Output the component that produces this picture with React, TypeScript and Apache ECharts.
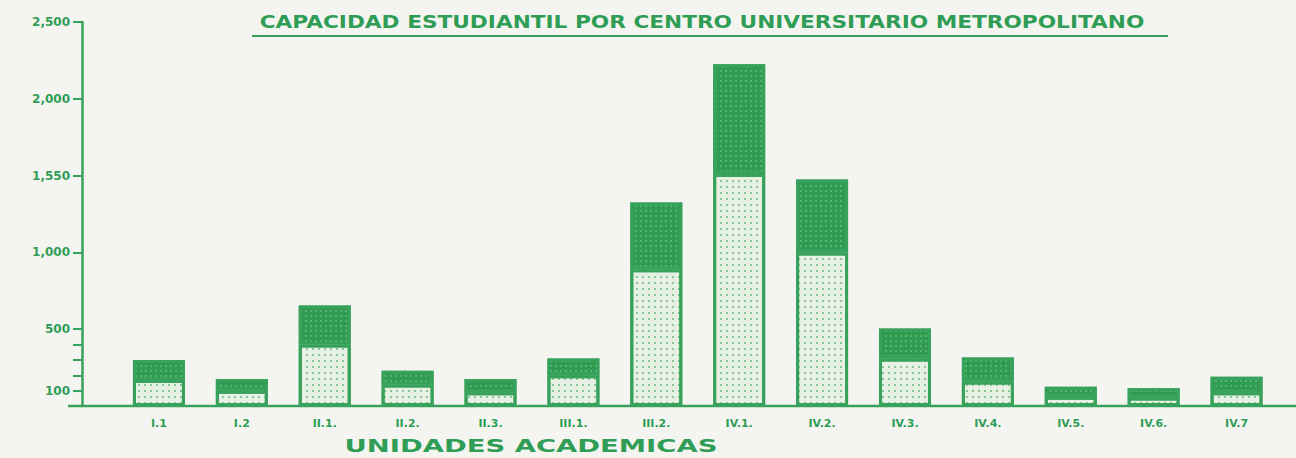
import React, { useEffect, useRef } from "react";
import * as echarts from "echarts";

const categories = ["I.1", "I.2", "II.1.", "II.2.", "II.3.", "III.1.", "III.2.", "IV.1.", "IV.2.", "IV.3.", "IV.4.", "IV.5.", "IV.6.", "IV.7"];
const baseValues = [170, 100, 400, 140, 90, 200, 890, 1510, 1000, 310, 160, 60, 55, 90];
const upperValues = [130, 75, 255, 90, 85, 110, 435, 715, 475, 195, 155, 65, 60, 100];
const yTickValues = [100, 200, 300, 400, 500, 1000, 1500, 2000, 2500];
const yLabelValues = [100, 500, 1000, 1500, 2000, 2500];
const yLabelTexts = ["100", "500", "1,000", "1,550", "2,000", "2,500"];
const titleText = "CAPACIDAD ESTUDIANTIL POR CENTRO UNIVERSITARIO METROPOLITANO";
const xNameText = "UNIDADES ACADEMICAS";

const GREEN = "#2f9d55";
const LINE = "#38a25c";
const BG = "#f4f5f1";

function measure(text: string, font: string): number {
  const c = document.createElement("canvas");
  const ctx = c.getContext("2d");
  if (!ctx) return text.length * 10;
  ctx.font = font;
  return ctx.measureText(text).width;
}

export default function App() {
  const ref = useRef<HTMLDivElement>(null);
  useEffect(() => {
    if (!ref.current) return;
    const chart = echarts.init(ref.current, undefined, { renderer: "svg" });
    const titleFont = 'bold 18px "DejaVu Sans"';
    const titleScale = 885 / measure(titleText, titleFont);
    const nameScale = 373 / measure(xNameText, titleFont);
    const labelMap: Record<number, string> = {};
    yLabelValues.forEach((v, i) => (labelMap[v] = yLabelTexts[i]));

    chart.setOption({
      animation: false,
      backgroundColor: BG,
      grid: { left: 117.5, right: 18, top: 22, bottom: 52 },
      xAxis: {
        type: "category",
        data: categories,
        axisLine: { show: false },
        axisTick: { show: false },
        axisLabel: {
          color: GREEN,
          fontFamily: "DejaVu Sans",
          fontWeight: "bold",
          fontSize: 11,
          margin: 12,
        },
      },
      yAxis: {
        type: "value",
        min: 0,
        max: 2500,
        interval: 500,
        offset: 35.5,
        splitLine: { show: false },
        axisLine: { show: true, lineStyle: { color: LINE, width: 2.5 } },
        axisTick: {
          show: true,
          customValues: yTickValues,
          length: 9,
          lineStyle: { color: LINE, width: 2 },
        },
        axisLabel: {
          customValues: yLabelValues,
          formatter: (v: number) => labelMap[v] ?? "",
          color: GREEN,
          fontFamily: "DejaVu Sans",
          fontWeight: "bold",
          fontSize: 12,
          margin: 12,
        },
      },
      series: [
        {
          type: "bar",
          name: "base",
          stack: "total",
          data: baseValues,
          barWidth: 52,
          itemStyle: {
            color: "#e6f0e3",
            borderColor: LINE,
            borderWidth: 3,
            decal: {
              symbol: "rect",
              symbolSize: 1,
              color: "rgba(60,165,95,0.55)",
              dashArrayX: [1.5, 4],
              dashArrayY: [1.5, 4],
            },
          },
        },
        {
          type: "bar",
          name: "upper",
          stack: "total",
          data: upperValues,
          barWidth: 52,
          itemStyle: {
            color: "#2f9b50",
            borderColor: LINE,
            borderWidth: 3,
            decal: {
              symbol: "circle",
              symbolSize: 1,
              color: "rgba(150,215,165,0.45)",
              dashArrayX: [1.5, 3],
              dashArrayY: [1.5, 3],
            },
          },
        },
      ],
      graphic: [
        {
          type: "text",
          x: 702,
          y: 22,
          scaleX: titleScale,
          style: {
            text: titleText,
            font: titleFont,
            fill: GREEN,
            textAlign: "center",
            textVerticalAlign: "middle",
          },
        },
        {
          type: "line",
          shape: { x1: 252, y1: 36, x2: 1168, y2: 36 },
          style: { stroke: LINE, lineWidth: 2 },
        },
        {
          type: "line",
          shape: { x1: 68, y1: 406, x2: 1296, y2: 406 },
          style: { stroke: LINE, lineWidth: 2.5 },
        },
        {
          type: "text",
          x: 531,
          y: 445,
          scaleX: nameScale,
          style: {
            text: xNameText,
            font: titleFont,
            fill: GREEN,
            textAlign: "center",
            textVerticalAlign: "middle",
          },
        },
      ],
    });
    return () => chart.dispose();
  }, []);
  return (
    <div
      ref={ref}
      style={{ position: "fixed", left: 0, top: 0, width: 1296, height: 458, background: BG }}
    />
  );
}
